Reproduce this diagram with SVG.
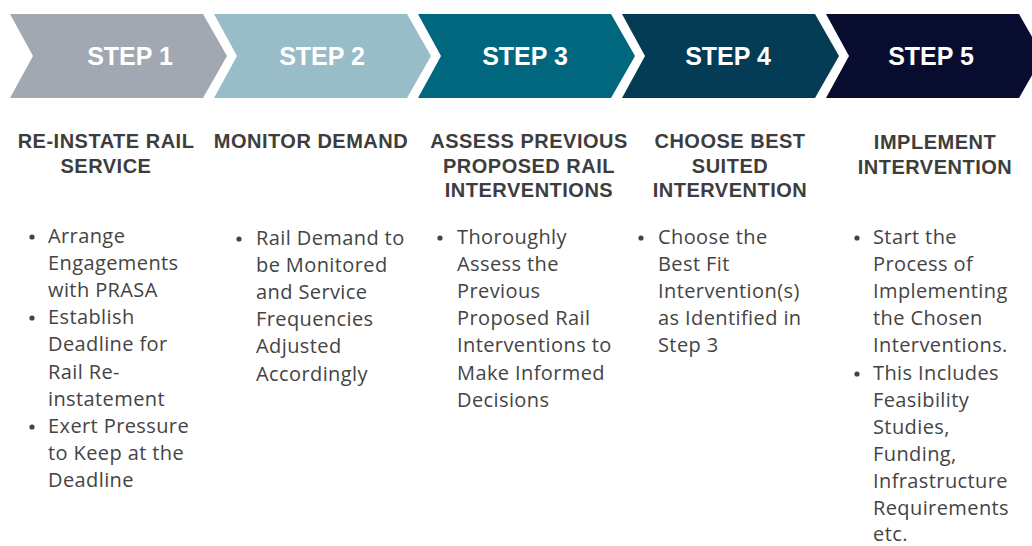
<svg xmlns="http://www.w3.org/2000/svg" width="1032" height="546" viewBox="0 0 1032 546">
<style>
.step{font-family:"Liberation Sans",Arial,sans-serif;font-weight:bold;font-size:25px;fill:#ffffff;text-anchor:middle}
.head{font-family:"Liberation Sans",Arial,sans-serif;font-weight:bold;font-size:20px;fill:#3d3d3d;text-anchor:middle;letter-spacing:0.5px}
.body{font-family:"Open Sans","Liberation Sans",sans-serif;font-size:20px;fill:#444444;letter-spacing:0.4px}
.dot{fill:#444444}
</style>
<defs>
<polygon id="chev" points="0,14 193,14 217,56 193,98 0,98 23,56"/>
</defs>
<rect width="1032" height="546" fill="#ffffff"/>
<g id="connectors"></g>

<g id="step1">
<use href="#chev" x="10" fill="#A1A8B2"/>
<text class="step" x="130" y="65">STEP 1</text>
<text class="head" x="106" y="148">RE-INSTATE RAIL</text>
<text class="head" x="106" y="173">SERVICE</text>
<circle class="dot" cx="32" cy="237" r="2.6"/>
<circle class="dot" cx="32" cy="318" r="2.6"/>
<circle class="dot" cx="32" cy="427" r="2.6"/>
<text class="body" x="48" y="243">Arrange</text>
<text class="body" x="48" y="270">Engagements</text>
<text class="body" x="48" y="297">with PRASA</text>
<text class="body" x="48" y="324">Establish</text>
<text class="body" x="48" y="351">Deadline for</text>
<text class="body" x="48" y="379">Rail Re-</text>
<text class="body" x="48" y="406">instatement</text>
<text class="body" x="48" y="433">Exert Pressure</text>
<text class="body" x="48" y="460">to Keep at the</text>
<text class="body" x="48" y="487">Deadline</text>
</g>

<g id="step2">
<use href="#chev" x="214" fill="#98BCC8"/>
<text class="step" x="322" y="65">STEP 2</text>
<text class="head" x="311" y="148">MONITOR DEMAND</text>
<circle class="dot" cx="239" cy="239" r="2.6"/>
<text class="body" x="256" y="245">Rail Demand to</text>
<text class="body" x="256" y="272">be Monitored</text>
<text class="body" x="256" y="299">and Service</text>
<text class="body" x="256" y="326">Frequencies</text>
<text class="body" x="256" y="353">Adjusted</text>
<text class="body" x="256" y="381">Accordingly</text>
</g>

<g id="step3">
<use href="#chev" x="418" fill="#00677F"/>
<text class="step" x="525" y="65">STEP 3</text>
<text class="head" x="529" y="148">ASSESS PREVIOUS</text>
<text class="head" x="529" y="173">PROPOSED RAIL</text>
<text class="head" x="529" y="197">INTERVENTIONS</text>
<circle class="dot" cx="440" cy="238" r="2.6"/>
<text class="body" x="457" y="244">Thoroughly</text>
<text class="body" x="457" y="271">Assess the</text>
<text class="body" x="457" y="298">Previous</text>
<text class="body" x="457" y="325">Proposed Rail</text>
<text class="body" x="457" y="352">Interventions to</text>
<text class="body" x="457" y="380">Make Informed</text>
<text class="body" x="457" y="407">Decisions</text>
</g>

<g id="step4">
<use href="#chev" x="622" fill="#043B55"/>
<text class="step" x="728" y="65">STEP 4</text>
<text class="head" x="730" y="148">CHOOSE BEST</text>
<text class="head" x="730" y="173">SUITED</text>
<text class="head" x="730" y="197">INTERVENTION</text>
<circle class="dot" cx="641" cy="238" r="2.6"/>
<text class="body" x="658" y="244">Choose the</text>
<text class="body" x="658" y="271">Best Fit</text>
<text class="body" x="658" y="298">Intervention(s)</text>
<text class="body" x="658" y="325">as Identified in</text>
<text class="body" x="658" y="352">Step 3</text>
</g>

<g id="step5">
<use href="#chev" x="826" fill="#080C2E"/>
<text class="step" x="931" y="65">STEP 5</text>
<text class="head" x="935" y="149">IMPLEMENT</text>
<text class="head" x="935" y="174">INTERVENTION</text>
<circle class="dot" cx="857" cy="238" r="2.6"/>
<circle class="dot" cx="857" cy="374" r="2.6"/>
<text class="body" x="873" y="244">Start the</text>
<text class="body" x="873" y="271">Process of</text>
<text class="body" x="873" y="298">Implementing</text>
<text class="body" x="873" y="325">the Chosen</text>
<text class="body" x="873" y="352">Interventions.</text>
<text class="body" x="873" y="380">This Includes</text>
<text class="body" x="873" y="407">Feasibility</text>
<text class="body" x="873" y="434">Studies,</text>
<text class="body" x="873" y="461">Funding,</text>
<text class="body" x="873" y="488">Infrastructure</text>
<text class="body" x="873" y="515">Requirements</text>
<text class="body" x="873" y="541">etc.</text>
</g>
</svg>
